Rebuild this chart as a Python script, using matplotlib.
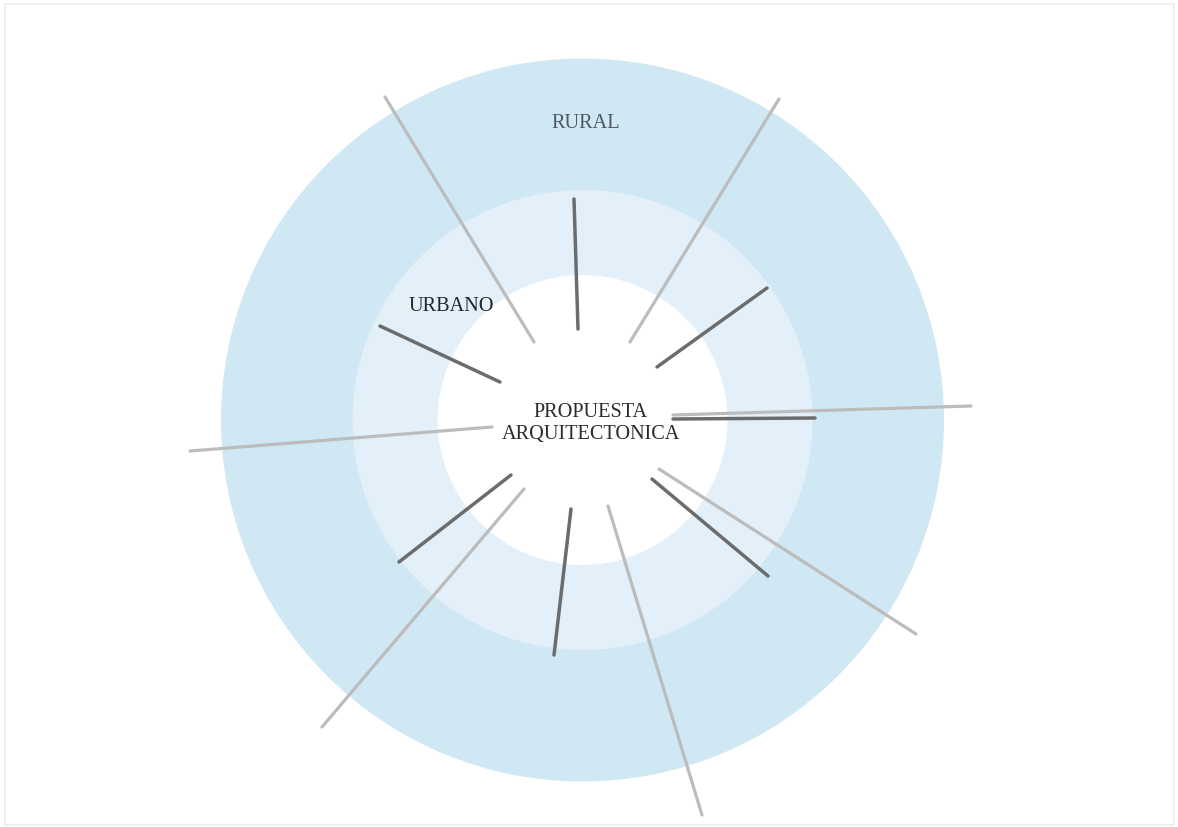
import numpy as np
import matplotlib.pyplot as plt
from matplotlib.patches import Circle, Rectangle

W, H = 1178, 827

# concentric rings (pixel units, y grows downward)
CENTER = (582.5, 420.0)
RING_RADII = [361.5, 230.0, 145.0]
RING_COLORS = ['#d0e7f4', '#e3f0f9', '#ffffff']

# long light spokes: x0, y0, x1, y1
LIGHT_X0 = [385, 779, 190, 673, 659, 524, 608]
LIGHT_Y0 = [97, 99, 451, 415, 469, 489, 506]
LIGHT_X1 = [534, 630, 492, 971, 916, 322, 702]
LIGHT_Y1 = [342, 342, 427, 406, 634, 727, 815]

# short dark spokes
DARK_X0 = [574, 767, 380, 673, 511, 652, 571]
DARK_Y0 = [199, 288, 326, 419, 475, 479, 509]
DARK_X1 = [578, 657, 500, 815, 399, 768, 554]
DARK_Y1 = [329, 367, 382, 418, 562, 576, 655]

LABELS = ['RURAL', 'URBANO', 'PROPUESTA', 'ARQUITECTONICA']
LABEL_X = [586, 451, 591, 591]
LABEL_Y = [128, 311, 417, 439]
LABEL_COLORS = ['#4d5862', '#1f2430', '#2a2a2a', '#2a2a2a']

plt.rcParams['font.family'] = ['Liberation Serif', 'DejaVu Serif']

fig = plt.figure(figsize=(W / 100, H / 100), dpi=100)
ax = fig.add_axes([0, 0, 1, 1])
ax.set_xlim(0, W)
ax.set_ylim(H, 0)
ax.set_aspect('equal')
ax.axis('off')

# faint frame
ax.add_patch(Rectangle((5, 4), W - 9, H - 6, fill=False, edgecolor='#ececec', linewidth=1.2))

for r, c in zip(RING_RADII, RING_COLORS):
    ax.add_patch(Circle(CENTER, r, facecolor=c, edgecolor='none'))

for x0, y0, x1, y1 in zip(LIGHT_X0, LIGHT_Y0, LIGHT_X1, LIGHT_Y1):
    ax.plot([x0, x1], [y0, y1], color='#bcbcbc', linewidth=2.3, solid_capstyle='round')

for x0, y0, x1, y1 in zip(DARK_X0, DARK_Y0, DARK_X1, DARK_Y1):
    ax.plot([x0, x1], [y0, y1], color='#6a6c6e', linewidth=2.5, solid_capstyle='round')

for t, x, y, c in zip(LABELS, LABEL_X, LABEL_Y, LABEL_COLORS):
    ax.text(x, y, t, ha='center', va='baseline', fontsize=14.6, color=c)

fig.savefig('out.png', dpi=100, facecolor='white')
